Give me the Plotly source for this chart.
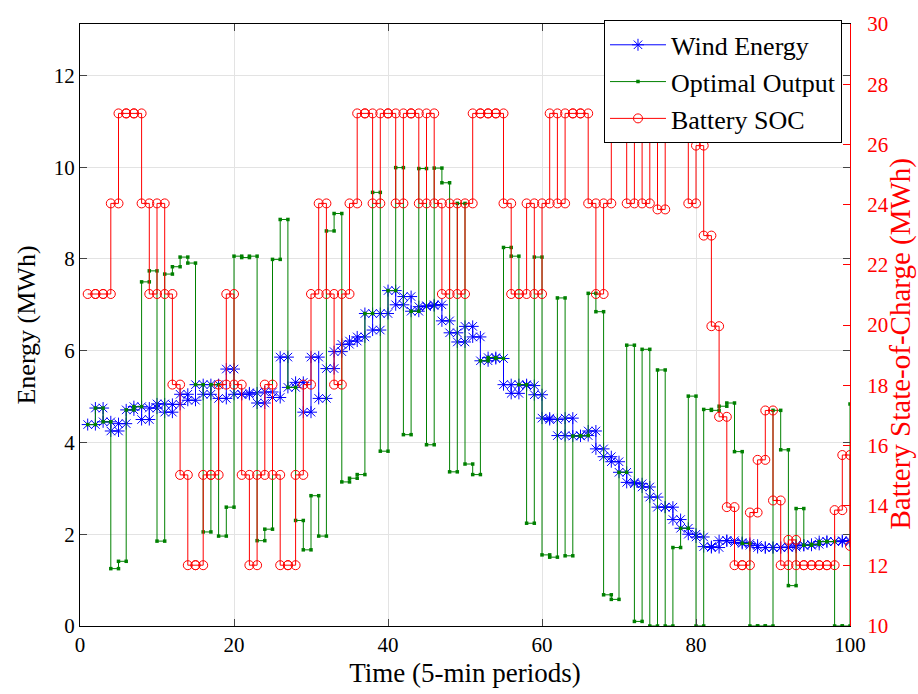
import plotly.graph_objects as go

periods = list(range(1, 101))

wind_energy = [
    4.39, 4.75, 4.45, 4.25, 4.41, 4.71, 4.78, 4.50, 4.75, 4.84,
    4.66, 4.83, 5.05, 4.92, 5.26, 5.05, 5.26, 4.96, 5.60, 5.05,
    5.05, 5.08, 4.86, 5.10, 4.98, 5.86, 5.20, 5.31, 4.66, 5.86,
    4.96, 5.61, 5.98, 6.14, 6.21, 6.30, 6.81, 6.45, 6.81, 7.31,
    7.00, 7.18, 6.86, 6.96, 6.98, 7.00, 6.65, 6.39, 6.19, 6.53,
    6.30, 5.78, 5.85, 5.83, 5.26, 5.07, 5.26, 5.24, 5.04, 4.53,
    4.50, 4.15, 4.53, 4.14, 4.15, 4.25, 3.86, 3.69, 3.58, 3.35,
    3.13, 3.10, 3.03, 2.81, 2.59, 2.59, 2.32, 2.13, 2.00, 1.94,
    1.73, 1.71, 1.86, 1.86, 1.82, 1.80, 1.76, 1.71, 1.71, 1.71,
    1.71, 1.72, 1.76, 1.76, 1.78, 1.84, 1.84, 1.84, 1.86, 1.84,
]

optimal_output = [
    4.39, 4.75, 4.45, 1.25, 1.41, 4.71, 4.78, 7.50, 7.74, 1.85,
    7.67, 7.83, 8.04, 7.91, 5.26, 2.05, 5.26, 1.96, 2.59, 8.06,
    8.03, 8.06, 1.86, 2.11, 7.99, 8.86, 5.20, 2.30, 1.66, 2.84,
    1.96, 8.61, 8.99, 3.14, 3.22, 3.30, 6.81, 9.45, 3.81, 7.31,
    9.99, 4.17, 6.86, 9.97, 3.95, 9.98, 9.66, 3.36, 9.21, 3.53,
    3.30, 5.78, 5.85, 5.83, 8.25, 8.06, 5.26, 2.24, 8.04, 1.55,
    1.50, 7.15, 1.53, 4.14, 4.15, 7.25, 6.85, 0.68, 0.58, 3.35,
    6.12, 0.10, 6.03, 0.00, 5.58, 0.00, 1.71, 2.13, 5.01, 0.00,
    4.72, 4.70, 4.79, 4.86, 3.80, 1.80, 0.00, 0.00, 0.00, 4.70,
    3.84, 0.88, 2.56, 1.76, 1.78, 1.84, 1.84, 0.00, 0.00, 4.84,
]

battery_soc = [
    21.03, 21.03, 21.03, 24.04, 27.03, 27.03, 27.03, 24.04, 21.03, 24.04,
    21.03, 18.02, 15.02, 12.02, 12.02, 15.02, 15.02, 18.02, 21.03, 18.02,
    15.02, 12.02, 15.02, 18.02, 15.02, 12.02, 12.02, 15.02, 18.02, 21.03,
    24.04, 21.03, 18.02, 21.03, 24.04, 27.03, 27.03, 24.04, 27.03, 27.03,
    24.04, 27.03, 27.03, 24.04, 27.03, 24.04, 21.03, 24.04, 21.03, 24.04,
    27.03, 27.03, 27.03, 27.03, 24.04, 21.03, 21.03, 24.04, 21.03, 24.04,
    27.03, 24.04, 27.03, 27.03, 27.03, 24.04, 21.03, 24.04, 27.03, 27.03,
    24.04, 27.03, 24.04, 26.81, 23.84, 26.43, 27.03, 27.03, 24.04, 25.96,
    22.97, 19.96, 16.95, 13.95, 12.02, 12.02, 13.77, 15.52, 17.16, 14.17,
    12.02, 12.86, 12.02, 12.02, 12.02, 12.02, 12.02, 13.85, 15.68, 12.66,
]

x_ticks = [0, 20, 40, 60, 80, 100]
y_ticks = [0, 2, 4, 6, 8, 10, 12]
y2_ticks = list(range(10, 31, 2))


def stairs(x, y):
    """Vertices of a staircase (like MATLAB stairs): hold each value until the next x."""
    xs, ys = [], []
    for i in range(len(x)):
        if i > 0:
            xs.append(x[i])
            ys.append(y[i - 1])
        xs.append(x[i])
        ys.append(y[i])
    return xs, ys


SERIF = "Liberation Serif, Times New Roman, serif"

fig = go.Figure()

wx, wy = stairs(periods, wind_energy)
fig.add_trace(go.Scatter(
    x=wx, y=wy, mode="lines+markers", name="Wind Energy",
    line=dict(color="#0000ff", width=1),
    marker=dict(symbol="asterisk-open", size=10, color="#0000ff",
                line=dict(color="#0000ff", width=1)),
))

ox, oy = stairs(periods, optimal_output)
fig.add_trace(go.Scatter(
    x=ox, y=oy, mode="lines+markers", name="Optimal Output",
    line=dict(color="#008000", width=1),
    marker=dict(symbol="square", size=3.5, color="#008000"),
))

sx, sy = stairs(periods, battery_soc)
fig.add_trace(go.Scatter(
    x=sx, y=sy, mode="lines+markers", name="Battery SOC", yaxis="y2",
    line=dict(color="#ff0000", width=1),
    marker=dict(symbol="circle-open", size=9, color="#ff0000",
                line=dict(color="#ff0000", width=1)),
))

fig.update_layout(
    width=918, height=694,
    margin=dict(l=80, r=68, t=18, b=68),
    paper_bgcolor="white", plot_bgcolor="white",
    font=dict(family=SERIF, size=21, color="black"),
    showlegend=True,
    legend=dict(
        x=0.9896, y=1.006, xanchor="right", yanchor="top",
        bgcolor="white", bordercolor="black", borderwidth=1,
        font=dict(family=SERIF, size=26, color="black"),
        tracegroupgap=0, itemwidth=56,
    ),
    xaxis=dict(
        range=[0, 100], tickvals=x_ticks, ticks="inside", ticklen=7,
        showline=True, linecolor="black", linewidth=1, mirror="ticks",
        showgrid=True, gridcolor="#e3e3e3", gridwidth=1, zeroline=False,
        tickfont=dict(family=SERIF, size=21, color="black"),
        title=dict(text="Time (5-min periods)",
                   font=dict(family=SERIF, size=27, color="black"), standoff=6),
    ),
    yaxis=dict(
        range=[0, 13.12], tickvals=y_ticks, ticks="inside", ticklen=7,
        showline=True, linecolor="black", linewidth=1, mirror="ticks",
        showgrid=True, gridcolor="#e3e3e3", gridwidth=1, zeroline=False,
        tickfont=dict(family=SERIF, size=21, color="black"),
        title=dict(text="Energy (MWh)",
                   font=dict(family=SERIF, size=26, color="black"), standoff=10),
    ),
    yaxis2=dict(
        range=[10, 30], tickvals=y2_ticks, ticks="inside", ticklen=7,
        overlaying="y", side="right", anchor="x",
        showline=True, linecolor="#ff0000", linewidth=1,
        showgrid=False, zeroline=False, tickcolor="#ff0000",
        ticklabelstandoff=12,
        tickfont=dict(family=SERIF, size=21, color="#ff0000"),
    ),
    annotations=[dict(
        text="Battery State-of-Charge (MWh)", textangle=-90,
        xref="paper", yref="paper", x=1.0655, y=0.47,
        xanchor="center", yanchor="middle", showarrow=False,
        font=dict(family=SERIF, size=29, color="#ff0000"),
    )],
)

fig.write_html("out.html")
